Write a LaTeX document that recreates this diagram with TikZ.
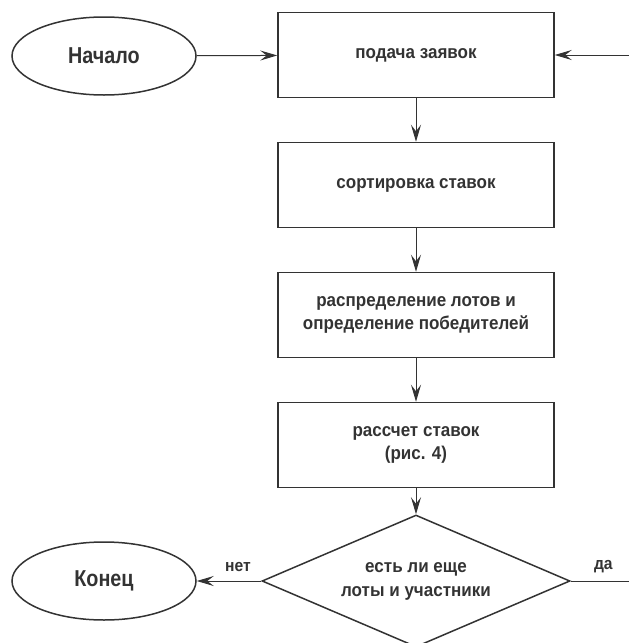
\documentclass[tikz,border=0pt]{standalone}
\usepackage{fontspec}
\setmainfont{Liberation Sans}
\newfontfamily\boxfont[FakeStretch=0.92]{Liberation Sans}
\newfontfamily\termfont[FakeStretch=0.86]{Liberation Sans}
\usetikzlibrary{shapes.geometric,arrows.meta}
\definecolor{ink}{HTML}{333333}
\begin{document}
\begin{tikzpicture}[x=1pt,y=-1pt,
  outline/.style={draw=ink, line width=1.5pt},
  stepbox/.style={outline, rectangle, minimum width=276pt, minimum height=85pt,
    inner sep=0pt, align=center, text=ink,
    font=\boxfont\bfseries\fontsize{18.5}{23}\selectfont},
  terminal/.style={outline, ellipse, minimum width=184pt, minimum height=78pt,
    inner sep=0pt, text=ink, font=\termfont\bfseries\fontsize{23}{26}\selectfont},
  decision/.style={outline, diamond, minimum width=308pt, minimum height=132pt,
    aspect=2.33, inner sep=0pt, align=center, text=ink,
    font=\boxfont\bfseries\fontsize{18.5}{24}\selectfont},
  flow/.style={draw=ink, line width=1pt, -{Stealth[length=17pt,width=10pt,inset=6.5pt]}},
  plain/.style={draw=ink, line width=1pt},
  answer/.style={text=ink, yshift=14pt, font=\boxfont\bfseries\fontsize{17}{20}\selectfont}
]
\useasboundingbox (0,0) rectangle (629,643);

% terminals, process steps and the decision
\node[terminal] (start) at (104,56) {Начало};
\node[stepbox] (submit) at (416,55) {подача заявок};
\node[stepbox] (sort) at (416,185) {сортировка ставок};
\node[stepbox] (assign) at (416,315) {распределение лотов и\\определение победителей};
\node[stepbox] (calc) at (416,445) {рассчет ставок\\(рис. 4)};
\node[decision] (check) at (416,581) {есть ли еще\\лоты и участники};
\node[terminal] (finish) at (104,581) {Конец};

% free ends of the loop-back line at the right edge
\coordinate (loopin) at (629,55);
\coordinate (loopout) at (629,581);

% connectors
\draw[flow] (start) -- (submit);
\draw[flow] (loopin) -- (submit);
\draw[flow] (submit) -- (sort);
\draw[flow] (sort) -- (assign);
\draw[flow] (assign) -- (calc);
\draw[flow] (calc) -- (check);
\draw[flow] (check) -- node[answer, pos=0.36] {нет} (finish);
\draw[plain] (check) -- node[answer, pos=0.56] {да} (loopout);
\end{tikzpicture}
\end{document}
